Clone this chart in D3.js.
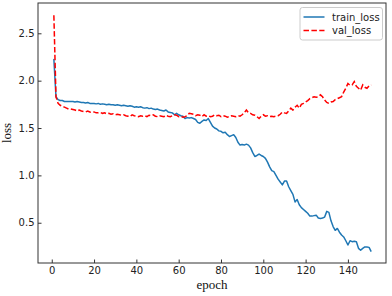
<!DOCTYPE html>
<html>
<head>
<meta charset="utf-8">
<script src="https://cdn.jsdelivr.net/npm/d3@7"></script>
<style>
  body { margin: 0; background: #fff; }
  svg { display: block; }
</style>
</head>
<body>
<div id="chart"></div>
<script>
// loss values per epoch (1..151)
var trainLoss = [
  2.23, 1.83, 1.80, 1.79, 1.79, 1.78, 1.78, 1.78, 1.78, 1.78,
  1.775, 1.78, 1.775, 1.77, 1.77, 1.765, 1.77, 1.76, 1.76, 1.76,
  1.755, 1.76, 1.75, 1.755, 1.75, 1.745, 1.75, 1.745, 1.745, 1.74,
  1.745, 1.74, 1.735, 1.74, 1.735, 1.73, 1.735, 1.73, 1.72, 1.725,
  1.72, 1.725, 1.715, 1.71, 1.715, 1.705, 1.71, 1.70, 1.695, 1.70,
  1.69, 1.685, 1.68, 1.69, 1.67, 1.665, 1.66, 1.64, 1.655, 1.64,
  1.63, 1.625, 1.60, 1.61, 1.605, 1.61, 1.60, 1.59, 1.56, 1.55,
  1.57, 1.585, 1.58, 1.60, 1.56, 1.52, 1.50, 1.49, 1.47, 1.465,
  1.45, 1.455, 1.43, 1.41, 1.42, 1.43, 1.40, 1.35, 1.32, 1.325,
  1.32, 1.33, 1.32, 1.29, 1.24, 1.20, 1.21, 1.225, 1.21, 1.20,
  1.18, 1.14, 1.09, 1.05, 1.04, 1.00, 0.96, 0.93, 0.90, 0.94,
  0.94, 0.88, 0.84, 0.80, 0.72, 0.745, 0.69, 0.66, 0.64, 0.62,
  0.60, 0.57, 0.57, 0.575, 0.58, 0.55, 0.545, 0.55, 0.56, 0.62,
  0.61, 0.52, 0.46, 0.42, 0.44, 0.40, 0.37, 0.35, 0.31, 0.265,
  0.31, 0.30, 0.305, 0.30, 0.23, 0.21, 0.23, 0.245, 0.245, 0.24,
  0.195
];
var valLoss = [
  2.69, 1.83, 1.76, 1.74, 1.73, 1.72, 1.71, 1.70, 1.70, 1.695,
  1.69, 1.68, 1.69, 1.68, 1.675, 1.67, 1.68, 1.67, 1.665, 1.67,
  1.66, 1.66, 1.665, 1.655, 1.66, 1.65, 1.655, 1.645, 1.65, 1.64,
  1.645, 1.64, 1.635, 1.64, 1.63, 1.625, 1.62, 1.64, 1.63, 1.625,
  1.62, 1.63, 1.625, 1.63, 1.62, 1.635, 1.63, 1.64, 1.625, 1.62,
  1.63, 1.625, 1.62, 1.635, 1.625, 1.62, 1.63, 1.64, 1.635, 1.62,
  1.625, 1.615, 1.62, 1.63, 1.655, 1.65, 1.645, 1.63, 1.64, 1.635,
  1.62, 1.64, 1.625, 1.63, 1.62, 1.625, 1.64, 1.63, 1.635, 1.62,
  1.63, 1.625, 1.615, 1.62, 1.63, 1.625, 1.62, 1.63, 1.625, 1.64,
  1.66, 1.69, 1.66, 1.655, 1.64, 1.635, 1.62, 1.60, 1.625, 1.64,
  1.625, 1.63, 1.62, 1.625, 1.62, 1.625, 1.63, 1.645, 1.67, 1.66,
  1.655, 1.68, 1.71, 1.69, 1.72, 1.74, 1.71, 1.75, 1.76, 1.775,
  1.79, 1.81, 1.82, 1.83, 1.825, 1.83, 1.85, 1.83, 1.795, 1.77,
  1.76, 1.775, 1.78, 1.80, 1.81, 1.82, 1.83, 1.88, 1.92, 1.97,
  1.95, 1.955, 1.99, 1.94, 1.92, 1.90, 1.955, 1.93, 1.92, 1.945,
  1.955
];
var xTicks = [0, 20, 40, 60, 80, 100, 120, 140];
var yTicks = [0.5, 1.0, 1.5, 2.0, 2.5];
var seriesNames = ["train_loss", "val_loss"];

var W = 392, H = 296;
var margin = { left: 38, right: 386, top: 3, bottom: 263 };

var svg = d3.select("#chart").append("svg")
  .attr("width", W).attr("height", H);

var x = d3.scaleLinear().domain([-6.5, 158]).range([margin.left, margin.right]);
var y = d3.scaleLinear().domain([0.075, 2.82]).range([margin.bottom, margin.top]);

var line = d3.line()
  .x(function (d, i) { return x(i + 1); })
  .y(function (d) { return y(d); });

// axes, ticks pointing in
var xAxis = svg.append("g")
  .attr("transform", "translate(0," + margin.bottom + ")")
  .call(d3.axisBottom(x).tickValues(xTicks).tickSizeInner(-3.5).tickSizeOuter(0).tickPadding(4));
var yAxis = svg.append("g")
  .attr("transform", "translate(" + margin.left + ",0)")
  .call(d3.axisLeft(y).tickValues(yTicks).tickFormat(d3.format(".1f")).tickSizeInner(-3.5).tickSizeOuter(0).tickPadding(3.5));

[xAxis, yAxis].forEach(function (g) {
  g.select(".domain").remove();
  g.selectAll(".tick line").attr("stroke", "#333");
  g.selectAll(".tick text")
    .attr("fill", "#222")
    .style("font-family", "DejaVu Sans")
    .style("font-size", "10px");
});

svg.append("path")
  .datum(trainLoss)
  .attr("fill", "none")
  .attr("stroke", "#1f77b4")
  .attr("stroke-width", 1.5)
  .attr("stroke-linejoin", "round")
  .attr("d", line);

svg.append("path")
  .datum(valLoss)
  .attr("fill", "none")
  .attr("stroke", "#ff0000")
  .attr("stroke-width", 1.5)
  .attr("stroke-dasharray", "5.5,2.4")
  .attr("d", line);

// frame
svg.append("rect")
  .attr("x", margin.left).attr("y", margin.top)
  .attr("width", margin.right - margin.left).attr("height", margin.bottom - margin.top)
  .attr("fill", "none")
  .attr("stroke", "#333")
  .attr("stroke-width", 1);

// axis labels
svg.append("text")
  .attr("x", (margin.left + margin.right) / 2).attr("y", 289)
  .attr("text-anchor", "middle")
  .style("font-family", "Liberation Serif")
  .style("font-size", "13px")
  .attr("fill", "#111")
  .text("epoch");

svg.append("text")
  .attr("transform", "translate(11," + (margin.top + margin.bottom) / 2 + ") rotate(-90)")
  .attr("text-anchor", "middle")
  .style("font-family", "Liberation Serif")
  .style("font-size", "13px")
  .attr("fill", "#111")
  .text("loss");

// legend
var lg = svg.append("g");
lg.append("rect")
  .attr("x", 300).attr("y", 7.5)
  .attr("width", 82.5).attr("height", 32.5)
  .attr("rx", 2.5)
  .attr("fill", "#fff").attr("fill-opacity", 0.8)
  .attr("stroke", "#ccc");

var legendStyles = [
  { color: "#1f77b4", dash: null },
  { color: "#ff0000", dash: "5.5,2.4" }
];
seriesNames.forEach(function (name, i) {
  var yy = 17 + i * 13.5;
  lg.append("line")
    .attr("x1", 303.5).attr("x2", 324.5)
    .attr("y1", yy).attr("y2", yy)
    .attr("stroke", legendStyles[i].color)
    .attr("stroke-width", 1.5)
    .attr("stroke-dasharray", legendStyles[i].dash);
  lg.append("text")
    .attr("x", 332).attr("y", yy)
    .attr("dy", "0.35em")
    .style("font-family", "DejaVu Sans")
    .style("font-size", "10px")
    .attr("fill", "#222")
    .text(name);
});
</script>
</body>
</html>
